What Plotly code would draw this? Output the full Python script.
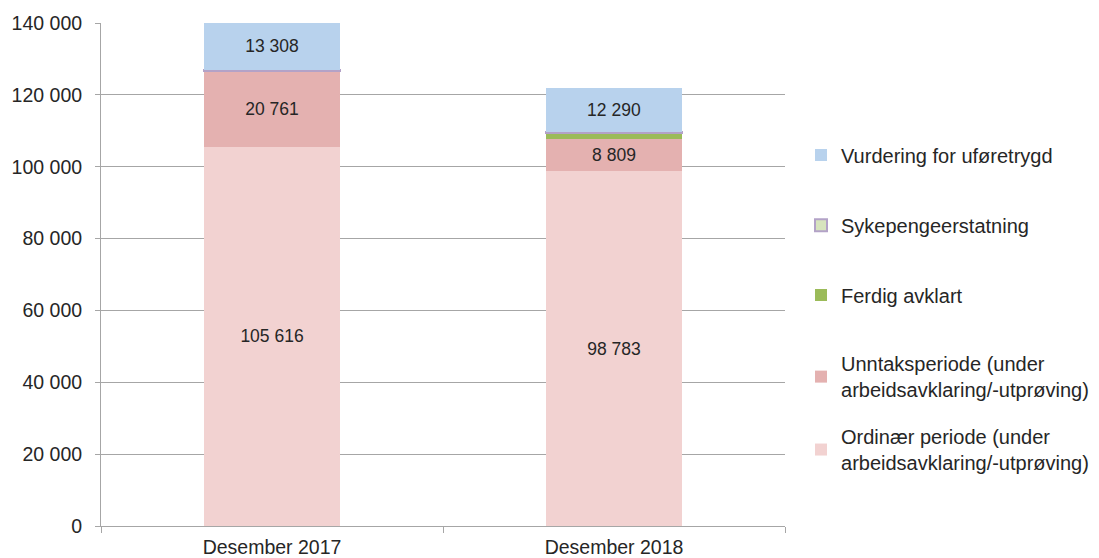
import plotly.graph_objects as go

categories = ["Desember 2017", "Desember 2018"]
ordinaer = [105616, 98783]
unntak = [20761, 8809]
ferdig = [300, 1700]
sykepenger = [250, 300]
vurdering = [13308, 12290]

series_names = [
    "Ordinær periode (under<br>arbeidsavklaring/-utprøving)",
    "Unntaksperiode (under<br>arbeidsavklaring/-utprøving)",
    "Ferdig avklart",
    "Sykepengeerstatning",
    "Vurdering for uføretrygd",
]
series_values = [ordinaer, unntak, ferdig, sykepenger, vurdering]
fills = ["#f2d2d1", "#e4b1b0", "#9bbb59", "#d7e4bd", "#b8d2ed"]
borders = [None, None, None, "#b3a2c7", None]
labelled = [True, True, False, False, True]
legend_ids = ["legend6", "legend5", "legend4", "legend3", "legend2"]
legend_y = [0.152, 0.297, 0.459, 0.598, 0.7376]

FONT = "Liberation Sans, Arial, sans-serif"
fig = go.Figure()
for name, vals, fc, bc, lab, lid in zip(series_names, series_values, fills, borders, labelled, legend_ids):
    fig.add_trace(go.Bar(
        x=categories, y=vals, name=name,
        marker=dict(color=fc, line=dict(color=bc if bc else fc, width=2 if bc else 0)),
        texttemplate="%{y:,d}" if lab else None,
        textposition="inside" if lab else "none",
        insidetextanchor="middle",
        textfont=dict(size=17.5, color="#262626", family=FONT),
        legend=lid,
        hoverinfo="skip",
    ))

layout_legends = {}
for lid, ly in zip(legend_ids, legend_y):
    layout_legends[lid] = dict(
        x=1.0234, y=ly, xref="paper", yref="paper", xanchor="left", yanchor="middle",
        font=dict(size=20, color="#262626", family=FONT),
        bgcolor="rgba(0,0,0,0)", itemwidth=30,
    )

fig.update_layout(
    width=1099, height=558,
    barmode="stack", bargap=0.6,
    separators=", ",
    plot_bgcolor="white", paper_bgcolor="white",
    margin=dict(l=101, r=314, t=23, b=32, autoexpand=False),
    font=dict(family=FONT, size=19.5, color="#262626"),
    xaxis=dict(
        showline=True, linecolor="#a6a6a6", linewidth=1,
        ticks="outside", tickson="boundaries", ticklen=6, tickcolor="#a6a6a6",
        tickfont=dict(size=19.5), showgrid=False, automargin=False,
        ticklabelstandoff=4,
    ),
    yaxis=dict(
        range=[0, 140000], dtick=20000, tickformat=",d",
        showline=True, linecolor="#a6a6a6", linewidth=1,
        ticks="outside", ticklen=5, tickcolor="#a6a6a6",
        showgrid=True, gridcolor="#a6a6a6", gridwidth=1,
        zeroline=False, tickfont=dict(size=19.5), automargin=False,
        ticklabelstandoff=9,
    ),
    **layout_legends,
)

fig.write_html("out.html", config={"displayModeBar": False},
               post_script="document.body.style.margin='0';")
